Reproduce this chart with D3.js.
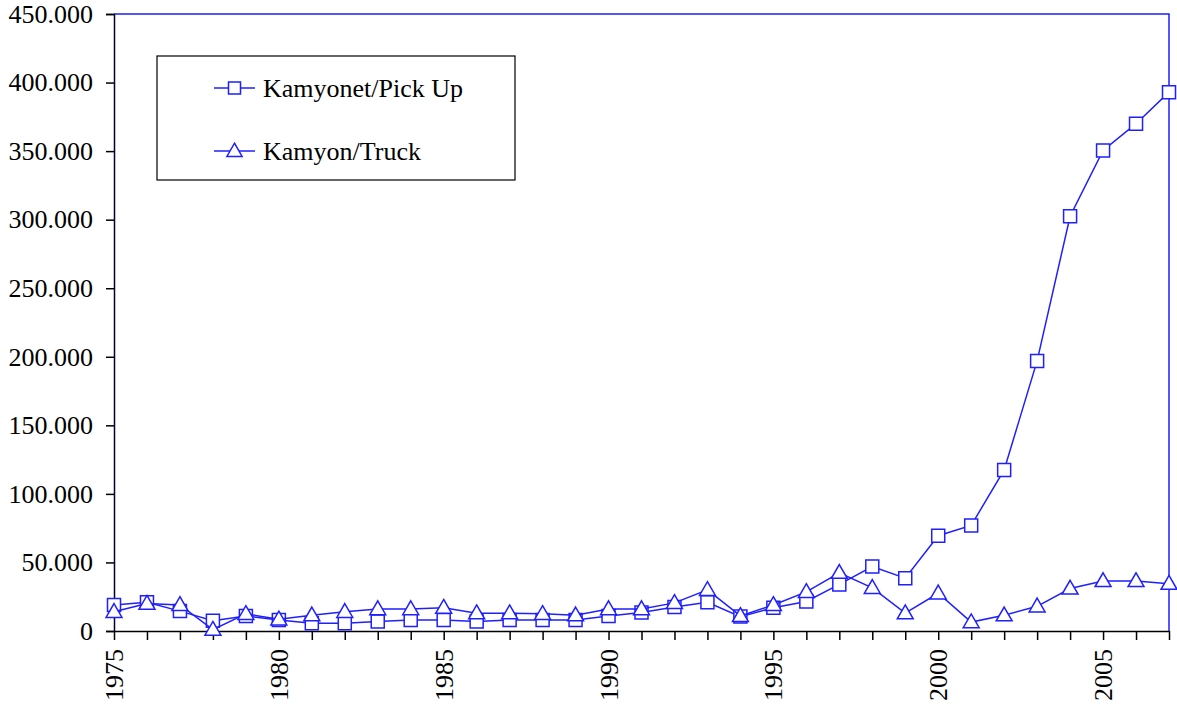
<!DOCTYPE html>
<html>
<head>
<meta charset="utf-8">
<script src="https://cdn.jsdelivr.net/npm/d3@7/dist/d3.min.js"></script>
<style>
  body { margin: 0; background: #fff; }
  svg text { font-family: "Liberation Serif", "Times New Roman", serif; fill: #000; }
</style>
</head>
<body>
<svg id="chart" width="1177" height="711"></svg>
<script>
// ---- data ----
const years = d3.range(1975, 2008);
const pickUp = [19000, 21000, 14500, 7500, 11000, 8000, 5600, 5600, 7000, 8000, 8000, 7000, 8000,
                8000, 8000, 11000, 13500, 17500, 21000, 10500, 17000, 21500, 34000, 47000, 38500,
                69500, 77000, 117500, 197000, 302500, 350500, 370000, 393000];
const truck = [14000, 20000, 19000, 1000, 12500, 8500, 11500, 14000, 16000, 16000, 17000, 13000, 13000,
               12500, 11500, 16000, 16000, 20500, 30000, 11000, 19000, 28500, 42500, 31500, 13000,
               27500, 6500, 11500, 18000, 31000, 36500, 36500, 34500];
const yTicks = d3.range(0, 450001, 50000);
const xLabelYears = [1975, 1980, 1985, 1990, 1995, 2000, 2005];
const seriesNames = ['Kamyonet/Pick Up', 'Kamyon/Truck'];

const BLUE = '#1f1fff';
const SERIF = '"Liberation Serif", "Times New Roman", serif';
const FONT = '26px';
const margin = { left: 114, right: 8, top: 14, bottom: 80 };
const W = 1177, H = 711;

const svg = d3.select('#chart');
const x = d3.scaleLinear().domain([1975, 2007]).range([margin.left, W - margin.right]);
const y = d3.scaleLinear().domain([0, 450000]).range([H - margin.bottom, margin.top]);

const loc = d3.formatLocale({ decimal: ',', thousands: '.', grouping: [3], currency: ['', ''] });
const fmt = loc.format(',');

// top and right frame lines (blue)
svg.append('path')
  .attr('d', `M ${x(1975)} ${y(450000)} H ${x(2007)} V ${y(0)}`)
  .attr('fill', 'none').attr('stroke', BLUE).attr('stroke-width', 1.5);

// y axis
const yAxis = svg.append('g')
  .attr('transform', `translate(${x(1975)},0)`)
  .call(d3.axisLeft(y).tickValues(yTicks).tickFormat(d => d === 0 ? '0' : fmt(d)).tickSize(8).tickPadding(13));
yAxis.select('.domain').attr('stroke', '#000033').attr('stroke-width', 1.5);
yAxis.selectAll('.tick line').attr('stroke', '#000').attr('stroke-width', 1.5);
yAxis.selectAll('.tick text')
  .style('font-family', SERIF).style('font-size', FONT).attr('fill', '#000');

// x axis
const xAxis = svg.append('g')
  .attr('transform', `translate(0,${y(0)})`)
  .call(d3.axisBottom(x).tickValues(years).tickFormat(d => xLabelYears.includes(d) ? d : '').tickSize(9).tickSizeOuter(0));
xAxis.select('.domain').attr('stroke', '#000').attr('stroke-width', 1.5);
xAxis.selectAll('.tick line').attr('stroke', '#000').attr('stroke-width', 1.5);
xAxis.selectAll('.tick text')
  .style('font-family', SERIF).style('font-size', FONT).attr('fill', '#000')
  .attr('transform', 'rotate(-90)')
  .attr('text-anchor', 'end')
  .attr('dy', '0.33em')
  .attr('x', -18).attr('y', 0);

const line = d3.line().x((d, i) => x(years[i])).y(d => y(d));

function drawSeries(values, shape) {
  const g = svg.append('g');
  g.append('path').datum(values)
    .attr('d', line).attr('fill', 'none').attr('stroke', BLUE).attr('stroke-width', 1.5);
  const sym = d3.symbol().type(shape === 'square' ? d3.symbolSquare : d3.symbolTriangle)
    .size(shape === 'square' ? 169 : 110);
  g.selectAll('path.mk').data(values).join('path')
    .attr('class', 'mk')
    .attr('d', sym)
    .attr('transform', (d, i) => `translate(${x(years[i])},${y(d) + (shape === 'square' ? 0 : 1)})`)
    .attr('fill', '#fff').attr('stroke', BLUE).attr('stroke-width', 1.5);
}
drawSeries(pickUp, 'square');
drawSeries(truck, 'triangle');

// legend
const lg = svg.append('g');
lg.append('rect').attr('x', 157).attr('y', 56).attr('width', 358).attr('height', 124)
  .attr('fill', '#fff').attr('stroke', '#000').attr('stroke-width', 1.2);
seriesNames.forEach((name, i) => {
  const cy = 88 + i * 63;
  lg.append('line').attr('x1', 214).attr('x2', 255).attr('y1', cy).attr('y2', cy)
    .attr('stroke', BLUE).attr('stroke-width', 1.5);
  lg.append('path')
    .attr('d', d3.symbol().type(i === 0 ? d3.symbolSquare : d3.symbolTriangle).size(i === 0 ? 144 : 100))
    .attr('transform', `translate(234.5,${cy + (i === 0 ? 0 : 1)})`)
    .attr('fill', '#fff').attr('stroke', BLUE).attr('stroke-width', 1.5);
  lg.append('text').attr('x', 263).attr('y', cy).attr('dy', '0.33em')
    .style('font-family', SERIF).style('font-size', FONT).text(name);
});
</script>
</body>
</html>
